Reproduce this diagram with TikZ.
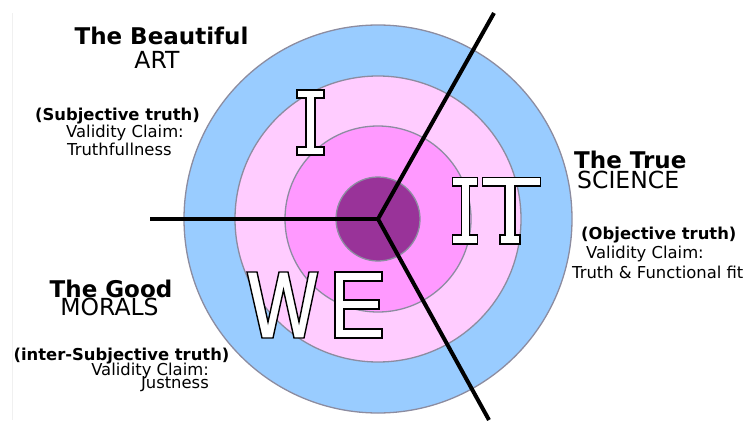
\documentclass[tikz,border=0pt]{standalone}
\usepackage{fontspec}
\setmainfont{DejaVu Sans}
\definecolor{ringblue}{HTML}{99CCFF}
\definecolor{ringlight}{HTML}{FFCCFF}
\definecolor{ringmid}{HTML}{FF99FF}
\definecolor{ringdark}{HTML}{993399}
\definecolor{ringedge}{HTML}{8C8CA0}
\tikzset{
  ring/.style={draw=ringedge, line width=1.3pt},
  divider/.style={draw=black, line width=4pt, line cap=butt},
  bigletter/.style={fill=white, draw=black, line width=1.4pt, line join=miter},
  headb/.style={inner sep=0pt, font=\fontsize{23}{27}\selectfont\bfseries},
  headr/.style={inner sep=0pt, font=\fontsize{23.5}{27}\selectfont},
  claimb/.style={inner sep=0pt, font=\fontsize{16.4}{20}\selectfont\bfseries},
  claimr/.style={inner sep=0pt, font=\fontsize{16.4}{20}\selectfont},
}
\begin{document}
\begin{tikzpicture}[x=1pt,y=-1pt]
\useasboundingbox (0,0) rectangle (751,420);
% faint scan edge
\draw[gray!12, line width=0.8pt] (12.5,13) -- (12.5,420);
% rings
\coordinate (c) at (378,219);
\filldraw[ring, fill=ringblue] (c) circle[radius=194pt];
\filldraw[ring, fill=ringlight] (c) circle[radius=143pt];
\filldraw[ring, fill=ringmid] (c) circle[radius=93pt];
\filldraw[ring, fill=ringdark] (c) circle[radius=42pt];
% dividers
\coordinate (eup) at (494,13);
\coordinate (eleft) at (150,219);
\coordinate (edown) at (489,420);
\draw[divider] (eup) -- (c) -- (edown);
\draw[divider] (eleft) -- (c);
% big letter I (upper left)
\draw[bigletter] (297,90) -- (324,90) -- (324,98) -- (315,98) -- (315,147) -- (324,147)
  -- (324,155) -- (297,155) -- (297,147) -- (306,147) -- (306,98) -- (297,98) -- cycle;
% big letters IT
\draw[bigletter] (452.7,177.3) -- (477.3,177.3) -- (477.3,186) -- (469.5,186) -- (469.5,235)
  -- (477.3,235) -- (477.3,244) -- (452.7,244) -- (452.7,235) -- (461.5,235) -- (461.5,186)
  -- (452.7,186) -- cycle;
\draw[bigletter] (482.7,177.3) -- (540.7,177.3) -- (540.7,186) -- (515,186) -- (515,235)
  -- (520,235) -- (520,244) -- (500,244) -- (500,235) -- (505,235) -- (505,186)
  -- (482.7,186) -- cycle;
% big letters WE
\draw[bigletter] (247,272) -- (257,272) -- (268,322) -- (279,272) -- (288,272) -- (299,322)
  -- (309,272) -- (318,272) -- (304,338) -- (294,338) -- (283.5,290) -- (273,338)
  -- (262,338) -- cycle;
\draw[bigletter] (335,272) -- (382,272) -- (382,281) -- (344,281) -- (344,300) -- (379,300)
  -- (379,309) -- (344,309) -- (344,329) -- (382,329) -- (382,338) -- (335,338) -- cycle;
% upper left texts
\node[headb, anchor=base] (beau) at (161.5,45) {The Beautiful};
\node[headr, anchor=base] (art) at (157,68) {ART};
\node[claimb, anchor=base] (subj) at (117.5,120) {(Subjective truth)};
\node[claimr, anchor=base west] (vc1) at (66,137) {Validity Claim:};
\node[claimr, anchor=base west] (tf) at (67,155) {Truthfullness};
% right texts
\node[headb, anchor=base west] (true) at (574,168) {The True};
\node[headr, anchor=base west] (sci) at (577,188) {SCIENCE};
\node[claimb, anchor=base west] (obj) at (581,239) {(Objective truth)};
\node[claimr, anchor=base west] (vc2) at (586,258) {Validity Claim:};
\node[claimr, anchor=base west] (tff) at (572,278) {Truth \& Functional fit};
% lower left texts
\node[headb, anchor=base] (good) at (111,297) {The Good};
\node[headr, anchor=base] (mor) at (109.5,315) {MORALS};
\node[claimb, anchor=base] (inter) at (121.5,360) {(inter-Subjective truth)};
\node[claimr, anchor=base east] (vc3) at (209,375) {Validity Claim:};
\node[claimr, anchor=base east] (just) at (209,388) {Justness};
\end{tikzpicture}
\end{document}
